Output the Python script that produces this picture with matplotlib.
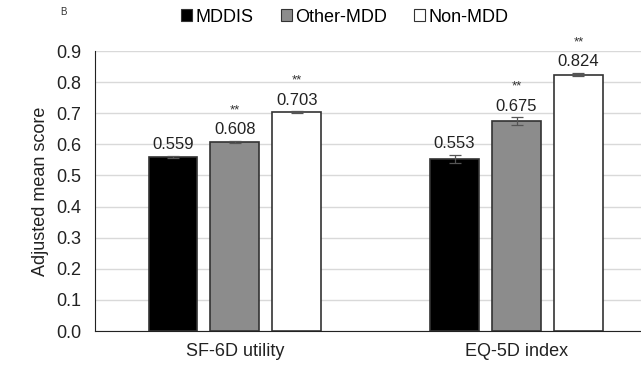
import numpy as np
import matplotlib.pyplot as plt

plt.rcParams['font.family'] = ['Liberation Sans', 'DejaVu Sans']

categories = ['SF-6D utility', 'EQ-5D index']
groups = ['MDDIS', 'Other-MDD', 'Non-MDD']
means = {
    'MDDIS': [0.559, 0.553],
    'Other-MDD': [0.608, 0.675],
    'Non-MDD': [0.703, 0.824],
}
errors = {
    'MDDIS': [0.003, 0.014],
    'Other-MDD': [0.003, 0.012],
    'Non-MDD': [0.003, 0.005],
}
stars = {
    'MDDIS': ['', ''],
    'Other-MDD': ['**', '**'],
    'Non-MDD': ['**', '**'],
}
colors = ['#000000', '#8c8c8c', '#ffffff']

fig = plt.figure(figsize=(6.41, 3.65), dpi=100)
ax = fig.add_axes([95 / 641, 1 - 331 / 365, 546 / 641, 280 / 365])

x = np.arange(len(categories))
width = 0.174
step = 0.22
for i, g in enumerate(groups):
    pos = x + (i - 1) * step
    ax.bar(pos, means[g], width, color=colors[i], edgecolor='#333333',
           linewidth=1.2, label=g, zorder=3)
    ax.errorbar(pos, means[g], yerr=errors[g], fmt='none', ecolor='#555555',
                elinewidth=0.9, capsize=4, capthick=0.9, zorder=4)
    for p, m, e, s in zip(pos, means[g], errors[g], stars[g]):
        ax.text(p, m + e + 0.012, f'{m:.3f}', ha='center', va='bottom',
                fontsize=12, color='#222222')
        if s:
            ax.text(p, m + e + 0.08, s, ha='center', va='bottom',
                    fontsize=9.5, color='#333333')

ax.set_ylim(0, 0.9)
ax.set_xlim(-0.497, 1.442)
ax.set_yticks(np.arange(0, 0.91, 0.1))
ax.set_yticklabels([f'{v:.1f}' for v in np.arange(0, 0.91, 0.1)])
ax.set_xticks(x)
ax.set_xticklabels(categories)
ax.tick_params(axis='both', length=0, labelsize=13, colors='#222222')
ax.tick_params(axis='x', pad=9)
ax.tick_params(axis='y', pad=10)
ax.yaxis.grid(True, color='#d9d9d9', linewidth=1, zorder=0)
for sp in ['top', 'right']:
    ax.spines[sp].set_visible(False)
ax.spines['left'].set_color('#222222')
ax.spines['bottom'].set_color('#222222')
ax.set_ylabel('Adjusted mean score', fontsize=13, color='#222222', labelpad=5)

leg = fig.legend(loc='center', bbox_to_anchor=(345 / 641, 1 - 17 / 365),
                 ncol=3, frameon=False, fontsize=13, handlelength=0.6,
                 handleheight=0.6, handletextpad=0.2, columnspacing=1.5)
for h in leg.legend_handles:
    h.set_linewidth(0.8)
    h.set_edgecolor('#333333')

fig.text(63 / 641, 1 - 12 / 365, 'B', fontsize=7, ha='center', va='center',
         color='#333333')

fig.savefig('out.png', dpi=100)
